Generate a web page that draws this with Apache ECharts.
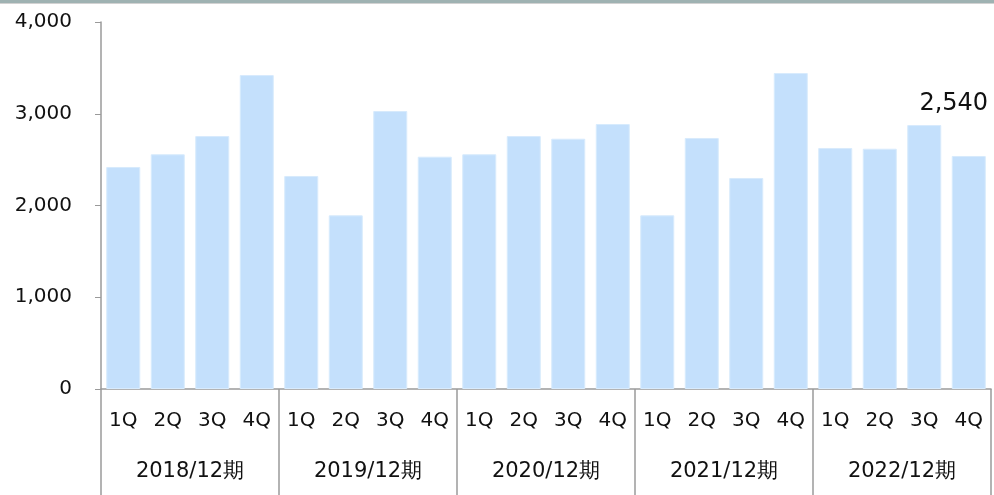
<!DOCTYPE html>
<html>
<head>
<meta charset="utf-8">
<script src="https://cdn.jsdelivr.net/npm/echarts@6/dist/echarts.min.js"></script>
<style>html,body{margin:0;padding:0;background:#fff}#c{width:994px;height:495px}</style>
</head>
<body>
<div id="c"></div>
<script>
const quarters = ["1Q","2Q","3Q","4Q","1Q","2Q","3Q","4Q","1Q","2Q","3Q","4Q","1Q","2Q","3Q","4Q","1Q","2Q","3Q","4Q"];
const years = ["2018/12期","2019/12期","2020/12期","2021/12期","2022/12期"];
const values = [2420,2558,2757,3422, 2322,1893,3030,2532, 2558,2757,2728,2888, 1893,2736,2300,3444, 2627,2619,2877,2540];
const yTicks = [0,1000,2000,3000,4000];
const labelIndex = 19;

const font = "'DejaVu Sans', sans-serif";
const axisGray = '#9a9a9a';
const chart = echarts.init(document.getElementById('c'), null, {renderer:'canvas'});
const seriesData = values.map((v,i)=> i===labelIndex ? {
  value: v,
  label: {show:true, position:'top', offset:[-15,-35], fontSize:24, fontFamily:font, color:'#111',
    formatter: p => p.value.toLocaleString('en-US')}
} : v);
chart.setOption({
  animation:false,
  grid:{left:101, right:3, top:22, bottom:106, containLabel:false},
  graphic:[
    {type:'rect', shape:{x:0,y:0,width:994,height:3}, style:{fill:'#9fb2b2'}},
    {type:'rect', shape:{x:0,y:3,width:994,height:1}, style:{fill:'#d2d2d2'}}
  ],
  xAxis:[
    {type:'category', data:quarters, position:'bottom',
     axisLine:{show:true, lineStyle:{color:axisGray, width:1.5}},
     axisTick:{show:false},
     axisLabel:{interval:0, margin:22, fontSize:20, fontFamily:font, color:'#111'}},
    {type:'category', data:years, position:'bottom', offset:0,
     axisLine:{show:false},
     axisTick:{show:true, length:110, lineStyle:{color:axisGray, width:1.5}},
     axisLabel:{interval:0, margin:72, fontSize:21, fontFamily:font, color:'#111'}}
  ],
  yAxis:{type:'value', min:yTicks[0], max:yTicks[yTicks.length-1], interval:1000,
    splitLine:{show:false},
    axisLine:{show:true, lineStyle:{color:axisGray, width:1.5}},
    axisTick:{show:true, length:6, lineStyle:{color:axisGray}},
    axisLabel:{margin:29, fontSize:20, fontFamily:font, color:'#111',
      formatter: v => v.toLocaleString('en-US')}},
  series:[{type:'bar', xAxisIndex:0, data:seriesData, barWidth:34,
    itemStyle:{color:'#c4e0fc', borderColor:'#d8ebfd', borderWidth:1}}]
});
</script>
</body>
</html>
